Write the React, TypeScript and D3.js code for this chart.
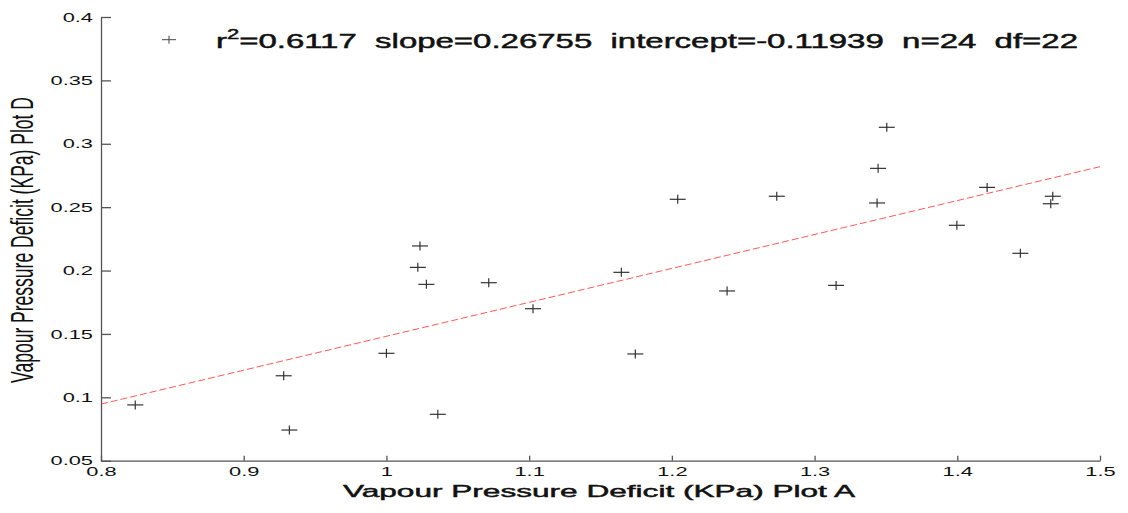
import { axisBottom, axisLeft, line, scaleLinear, select } from 'd3'
import { useEffect, useRef } from 'react'

// scatter data: VPD at plot A vs plot D
const vpdPlotA = [
  0.824, 0.928, 0.932, 1.0, 1.036, 1.0235, 1.022, 1.028, 1.0717, 1.1027, 1.1646, 1.1744,
  1.2041, 1.2387, 1.2735, 1.3506, 1.3445, 1.3438, 1.3151, 1.3997, 1.4209, 1.4442, 1.4669, 1.4655,
]
const vpdPlotD = [
  0.094, 0.117, 0.0742, 0.1347, 0.0866, 0.2194, 0.2025, 0.1891, 0.1904, 0.1699, 0.1986, 0.1342,
  0.2562, 0.1839, 0.2586, 0.313, 0.2806, 0.2533, 0.1883, 0.2357, 0.2656, 0.2136, 0.2586, 0.2527,
]

const xTicks = [0.8, 0.9, 1, 1.1, 1.2, 1.3, 1.4, 1.5]
const yTicks = [0.05, 0.1, 0.15, 0.2, 0.25, 0.3, 0.35, 0.4]

const slope = 0.26755
const intercept = -0.11939
const statsText = '=0.6117  slope=0.26755  intercept=-0.11939  n=24  df=22'

export default function App() {
  const svgRef = useRef<SVGSVGElement>(null)

  useEffect(() => {
    const svg = select(svgRef.current)
    svg.selectAll('*').remove()

    const left = 101
    const right = 1100
    const top = 17
    const bottom = 460.7
    const stretch = 1.68

    const x = scaleLinear().domain([0.8, 1.5]).range([left, right])
    const y = scaleLinear().domain([0.05, 0.4]).range([bottom, top])

    // regression line (dashed red)
    const fit = line<number>()
      .x((d) => x(d))
      .y((d) => y(slope * d + intercept))
    svg
      .append('path')
      .attr('d', fit([0.8, 1.5]))
      .attr('fill', 'none')
      .attr('stroke', '#ff5a5a')
      .attr('stroke-width', 1)
      .attr('stroke-dasharray', '7,3')

    // + markers
    const pts = vpdPlotA.map((a, i) => [a, vpdPlotD[i]])
    const mk = svg.append('g').attr('stroke', '#333').attr('stroke-width', 1.2)
    pts.forEach(([a, d]) => {
      const cx = x(a)
      const cy = y(d)
      mk.append('line').attr('x1', cx - 8).attr('x2', cx + 8).attr('y1', cy).attr('y2', cy)
      mk.append('line').attr('x1', cx).attr('x2', cx).attr('y1', cy - 4.5).attr('y2', cy + 4.5)
    })

    // X axis
    const gx = svg
      .append('g')
      .attr('transform', 'translate(0,' + bottom + ')')
      .call(axisBottom(x).tickValues(xTicks).tickFormat((d) => String(d)).tickSizeInner(-5).tickSizeOuter(0).tickPadding(6))
    // Y axis
    const gy = svg
      .append('g')
      .attr('transform', 'translate(' + left + ',0)')
      .call(axisLeft(y).tickValues(yTicks).tickFormat((d) => String(d)).tickSizeInner(-10).tickSizeOuter(0))

    ;[gx, gy].forEach((g) => {
      g.selectAll('path, line').attr('stroke', '#555').attr('stroke-width', 1.3)
      g.selectAll('text')
        .attr('fill', '#111')
        .style('font-family', 'Liberation Sans, Arial, sans-serif')
        .style('font-size', '13px')
    })
    gx.selectAll('text').attr('transform', 'scale(' + stretch + ',1)')
    gy.selectAll('text')
      .attr('x', -8 / stretch)
      .attr('transform', 'scale(' + stretch + ',1)')

    // axis labels
    svg
      .append('text')
      .attr('x', 343)
      .attr('y', 497)
      .attr('textLength', 512)
      .attr('lengthAdjust', 'spacingAndGlyphs')
      .style('font-family', 'Liberation Sans, Arial, sans-serif')
      .style('font-size', '16.7px')
      .attr('fill', '#111')
      .attr('stroke', '#111')
      .attr('stroke-width', 0.45)
      .text('Vapour Pressure Deficit (KPa) Plot A')

    svg
      .append('g')
      .attr('transform', 'translate(33,240) scale(1.9,1) rotate(-90)')
      .append('text')
      .attr('x', -143)
      .attr('y', 0)
      .attr('textLength', 286)
      .attr('lengthAdjust', 'spacingAndGlyphs')
      .style('font-family', 'Liberation Sans, Arial, sans-serif')
      .style('font-size', '16.8px')
      .attr('fill', '#111')
      .text('Vapour Pressure Deficit (KPa) Plot D')

    // legend
    const lg = svg.append('g').attr('stroke', '#444').attr('stroke-width', 1)
    lg.append('line').attr('x1', 162).attr('x2', 176).attr('y1', 39.7).attr('y2', 39.7)
    lg.append('line').attr('x1', 169).attr('x2', 169).attr('y1', 35.7).attr('y2', 43.7)

    const t = svg
      .append('text')
      .attr('x', 216)
      .attr('y', 47.7)
      .attr('textLength', 862)
      .attr('lengthAdjust', 'spacingAndGlyphs')
      .style('font-family', 'Liberation Sans, Arial, sans-serif')
      .style('font-size', '21px')
      .style('white-space', 'pre')
      .attr('fill', '#111')
      .attr('stroke', '#111')
      .attr('stroke-width', 0.5)
    t.append('tspan').text('r')
    t.append('tspan').attr('dy', -9).style('font-size', '14px').text('2')
    t.append('tspan').attr('dy', 9).text(statsText)
  }, [])

  return (
    <svg
      ref={svgRef}
      width={1128}
      height={513}
      style={{ position: 'absolute', left: 0, top: 0, background: '#fff' }}
    />
  )
}
